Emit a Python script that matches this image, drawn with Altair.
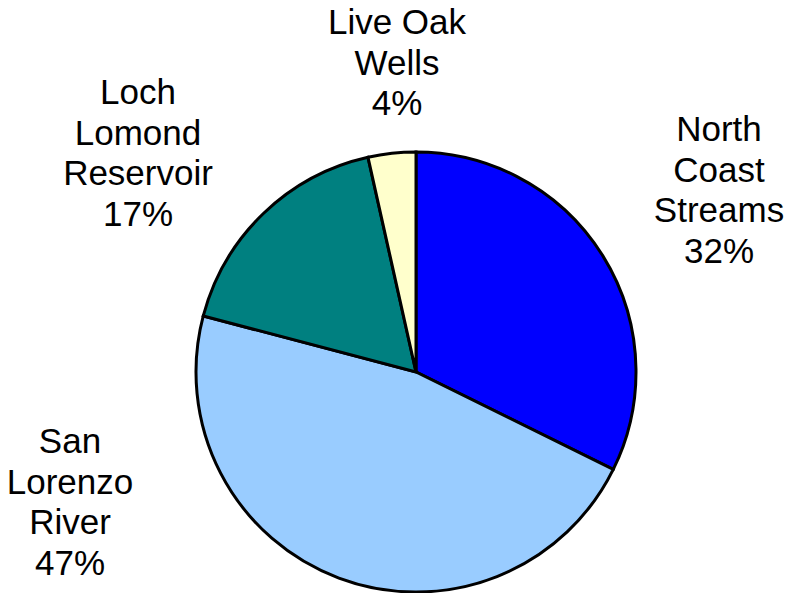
import altair as alt
import pandas as pd

# ---- data ----
sources = ["North Coast Streams", "San Lorenzo River", "Loch Lomond Reservoir", "Live Oak Wells"]
values = [32.3, 46.8, 17.4, 3.5]
pct_labels = ["32%", "47%", "17%", "4%"]
label_lines = ["North\nCoast\nStreams", "San\nLorenzo\nRiver", "Loch\nLomond\nReservoir", "Live Oak\nWells"]

# ---- styles ----
colors = ["#0000FF", "#99CCFF", "#008080", "#FFFFCC"]
PAD = 5
label_anchor = {  # centre of each label's first line, in plot-area pixels
    "North Coast Streams": (711 - PAD, 122 - PAD),
    "San Lorenzo River": (62 - PAD, 434 - PAD),
    "Loch Lomond Reservoir": (130 - PAD, 85 - PAD),
    "Live Oak Wells": (389 - PAD, 15 - PAD),
}
CX, CY, R = 408 - PAD, 364 - PAD, 220

df = pd.DataFrame({
    "source": sources,
    "value": values,
    "order": list(range(len(sources))),
    "label": [f"{l}\n{p}" for l, p in zip(label_lines, pct_labels)],
})

base = alt.Chart(df)

pie = base.mark_arc(
    radius=R, stroke="black", strokeWidth=3, x=CX, y=CY
).encode(
    theta=alt.Theta("value:Q", stack=True),
    order=alt.Order("order:Q"),
    color=alt.Color("source:N", scale=alt.Scale(domain=sources, range=colors), legend=None),
)

layers = [pie]
for s in sources:
    x, y = label_anchor[s]
    layers.append(
        base.transform_filter(alt.datum.source == s).mark_text(
            x=x, y=y, font="Liberation Sans", fontSize=35, lineHeight=40.5,
            lineBreak="\n", align="center", baseline="middle", color="black"
        ).encode(text="label:N")
    )

chart = alt.layer(*layers).properties(
    width=776 - 2 * PAD, height=585 - 2 * PAD, padding=PAD,
    autosize=alt.AutoSizeParams(type="none")
).configure_view(stroke=None)

chart.save("out.html", embed_options={"renderer": "svg", "actions": False})
